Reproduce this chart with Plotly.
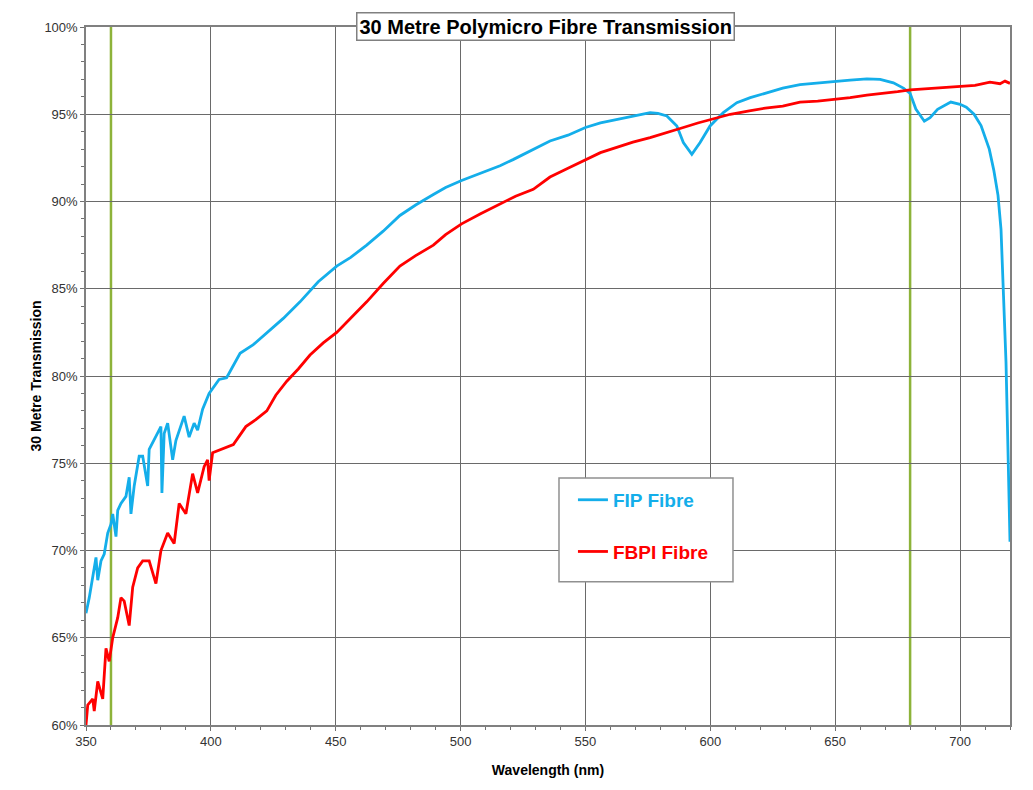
import plotly.graph_objects as go

# FIP fibre (wavelength nm, transmission %)
fip_wl = [350, 351.3, 353.3, 354, 354.7, 356, 357.3, 358.7, 360, 360.7, 362, 362.7, 364, 366,
          367.3, 368, 369.3, 371.3, 372.7, 374.7, 375.3, 380, 380.4, 381.3, 382.7, 384.7, 386,
          389.3, 391.3, 393.3, 394.7, 396.7, 399.3, 403.3, 406.3, 411.7, 417, 422.4, 429, 435.7,
          443, 450.4, 456, 462.4, 469, 475.7, 482, 489.1, 494, 500.4, 508, 515.8, 521, 526.4,
          531, 535.8, 543, 550, 556, 562.5, 569, 575.9, 579, 582.6, 586.6, 589.2, 592.6, 595.9,
          599.9, 605.2, 610.6, 616, 622.6, 629, 635.9, 643, 650, 656, 662.7, 668, 673.3, 677.3,
          680, 682.3, 685.7, 688, 691, 696.3, 700, 702.5, 705.6, 708.4, 711.7, 713.5, 715.2,
          716.4, 717.4, 718.4, 719, 719.5, 720]
fip_pct = [66.4, 67.3, 69.0, 69.6, 68.3, 69.4, 69.8, 71.0, 71.5, 72.1, 70.8, 72.3, 72.7, 73.1,
           74.2, 72.1, 73.7, 75.4, 75.4, 73.7, 75.8, 77.1, 73.3, 76.7, 77.3, 75.2, 76.3,
           77.7, 76.5, 77.3, 76.9, 78.1, 79.0, 79.8, 79.9, 81.3, 81.8, 82.5, 83.3, 84.25,
           85.4, 86.3, 86.8, 87.5, 88.3, 89.2, 89.8, 90.4, 90.8, 91.2, 91.6, 92.05, 92.4, 92.8,
           93.1, 93.47, 93.8, 94.24, 94.5, 94.7, 94.9, 95.09, 95.05, 94.9, 94.33, 93.38, 92.7, 93.38,
           94.33, 95.1, 95.66, 95.95, 96.23, 96.5, 96.7, 96.8, 96.9, 96.95, 97.03, 97.0, 96.8, 96.5,
           96.2, 95.3, 94.6, 94.8, 95.28, 95.7, 95.57, 95.4, 95.0, 94.35, 93.0, 91.8, 90.35,
           88.4, 84.6, 80.8, 77.0, 73.5, 70.5]

# FBPI fibre
fbpi_wl = [350, 350.7, 352.7, 353.3, 354.7, 356.7, 358, 359.3, 360.7, 362.7, 364, 365.3, 367.3,
           368.7, 370.7, 372.7, 375.3, 378, 380, 382.7, 385.3, 387.3, 390, 392.7, 394.7, 397.3,
           398.7, 399.3, 400.7, 404, 409, 414, 418, 422.4, 426, 430.4, 435, 439.7, 445, 450.4,
           456, 462.4, 469, 475.7, 482, 489.1, 494, 500.4, 508, 515.8, 522, 529.1, 535.8, 543,
           550, 556, 562.5, 569, 575.9, 583, 589.2, 595, 600, 608, 615.6, 622, 629, 635.9, 643,
           650, 656, 662.7, 670, 675, 680, 690, 700, 706, 712, 716, 718, 720]
fbpi_pct = [60.0, 61.15, 61.5, 60.8, 62.5, 61.5, 64.4, 63.65, 65.0, 66.15, 67.3, 67.1, 65.7,
            67.9, 69.0, 69.4, 69.4, 68.1, 70.0, 71.0, 70.4, 72.7, 72.1, 74.4, 73.3, 74.8,
            75.2, 74.0, 75.6, 75.8, 76.07, 77.1, 77.5, 78.0, 78.9, 79.7, 80.4, 81.2, 81.9, 82.5,
            83.3, 84.25, 85.3, 86.3, 86.9, 87.5, 88.1, 88.72, 89.3, 89.86, 90.3, 90.7, 91.4, 91.9,
            92.4, 92.8, 93.1, 93.4, 93.66, 93.95, 94.24, 94.5, 94.7, 95.0, 95.2, 95.35, 95.47, 95.7, 95.75,
            95.85, 95.95, 96.1, 96.2, 96.3, 96.4, 96.5, 96.58, 96.65, 96.84, 96.75, 96.9, 96.77]

# green band markers
band_edges = [360, 680]

blue = '#14AEEA'
red = '#FF0000'
font = 'Liberation Sans, Arial, sans-serif'

fig = go.Figure()
fig.add_trace(go.Scatter(x=fip_wl, y=fip_pct, mode='lines', line=dict(color=blue, width=2.8),
                         name="<b><span style='color:%s'>FIP Fibre</span></b>" % blue,
                         legendgroup='a'))
fig.add_trace(go.Scatter(x=fbpi_wl, y=fbpi_pct, mode='lines', line=dict(color=red, width=2.8),
                         name="<b><span style='color:%s'>FBPI Fibre</span></b>" % red,
                         legendgroup='b'))

for wl in band_edges:
    fig.add_vline(x=wl, line=dict(color='#8DB33A', width=2.5), layer='below')

axis_common = dict(showline=True, linecolor='#808080', linewidth=1.5, mirror=True,
                   showgrid=True, gridcolor='#6a6a6a', gridwidth=1.1,
                   ticks='outside', ticklen=4, tickcolor='#707070',
                   tickfont=dict(family=font, size=13, color='#333'),
                   zeroline=False,
                   minor=dict(ticks='outside', ticklen=3, tickcolor='#707070', showgrid=False))

fig.update_xaxes(range=[350, 720], dtick=50, tick0=350, **axis_common)
fig.update_xaxes(minor_dtick=10,
                 title=dict(text='<b>Wavelength (nm)</b>', font=dict(family=font, size=14, color='black'),
                            standoff=17))
fig.update_yaxes(range=[60, 100], dtick=5, ticksuffix='%', **axis_common)
fig.update_yaxes(minor_dtick=1,
                 title=dict(text='<b>30 Metre Transmission</b>', font=dict(family=font, size=14, color='black'),
                            standoff=0))

fig.add_annotation(text='<b>30 Metre Polymicro Fibre Transmission</b>', xref='paper', yref='paper',
                   x=0.4975, y=1.0012, xanchor='center', yanchor='middle', showarrow=False,
                   font=dict(family=font, size=20, color='black'),
                   bgcolor='white', bordercolor='#808080', borderwidth=1.5, borderpad=2)

# legend frame
fig.add_shape(type='rect', xref='paper', yref='paper', x0=0.5119, x1=0.7002, y0=0.2054, y1=0.3538,
              line=dict(color='#909090', width=1.5), fillcolor='white', layer='above')

fig.update_layout(
    width=1025, height=782,
    margin=dict(l=78, r=23, t=16, b=65),
    paper_bgcolor='white', plot_bgcolor='white',
    showlegend=True,
    legend=dict(x=0.527, y=0.3497, xanchor='left', yanchor='top',
                bgcolor='rgba(0,0,0,0)', borderwidth=0,
                font=dict(family=font, size=19), traceorder='grouped', tracegroupgap=24,
                itemwidth=30),
)

fig.write_html("out.html")
